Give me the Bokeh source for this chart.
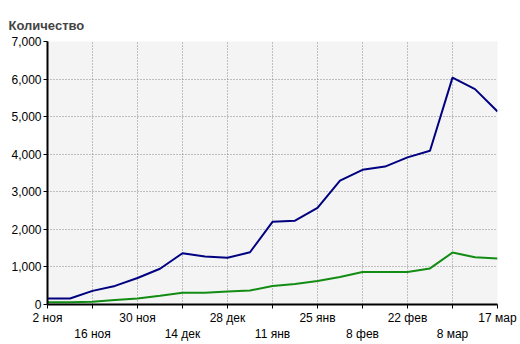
from bokeh.plotting import figure
from bokeh.models import Range1d, FixedTicker, NumeralTickFormatter
from bokeh.embed import file_html
from bokeh.resources import INLINE

# week index 0..20 (2 ноя .. 17 мар)
weeks = list(range(21))
total = [160, 160, 363, 495, 705, 952, 1363, 1276, 1242, 1390, 2200,
         2232, 2574, 3295, 3584, 3671, 3916, 4092, 6039, 5732, 5137]
second = [60, 60, 75, 118, 162, 232, 311, 311, 346, 373, 490,
          548, 627, 732, 864, 864, 864, 960, 1382, 1258, 1224]

tick_pos = [0, 2, 4, 6, 8, 10, 12, 14, 16, 18, 20]
tick_labels = ["2 ноя", "16 ноя", "30 ноя", "14 дек", "28 дек", "11 янв",
               "25 янв", "8 фев", "22 фев", "8 мар", "17 мар"]
y_ticks = [0, 1000, 2000, 3000, 4000, 5000, 6000, 7000]

FONT = "Liberation Sans"

p = figure(width=520, height=344, output_backend="svg", toolbar_location=None,
           x_range=Range1d(0, 20), y_range=Range1d(0, 7000),
           min_border_left=47, min_border_right=23, min_border_top=41,
           min_border_bottom=39)
p.outline_line_color = None
p.background_fill_color = "#f4f4f4"
p.border_fill_color = "white"

p.title.text = "Количество"
p.title.text_font = FONT
p.title.text_font_size = "13px"
p.title.text_font_style = "bold"
p.title.align = "left"
p.title.offset = -39
p.title.standoff = 18

p.line(weeks, total, line_color="#000080", line_width=2)
p.line(weeks, second, line_color="#128c12", line_width=2)

xa = p.xaxis[0]
xa.ticker = FixedTicker(ticks=tick_pos)
xa.major_label_overrides = {t: (lab if i % 2 == 0 else "\n" + lab)
                            for i, (t, lab) in enumerate(zip(tick_pos, tick_labels))}
ya = p.yaxis[0]
ya.ticker = FixedTicker(ticks=y_ticks)
ya.formatter = NumeralTickFormatter(format="0,0")

for ax in (xa, ya):
    ax.axis_line_width = 2
    ax.axis_line_color = "black"
    ax.major_tick_line_color = "black"
    ax.major_tick_in = 0
    ax.major_tick_out = 4
    ax.minor_tick_line_color = None
    ax.major_label_text_font = FONT
    ax.major_label_text_font_size = "12px"
    ax.major_label_text_color = "black"
    ax.major_label_standoff = 2
ya.major_label_orientation = "horizontal"

for g in (p.xgrid[0], p.ygrid[0]):
    g.grid_line_color = "#8a8a8a"
    g.grid_line_dash = "1 2"
    g.grid_line_width = 1
p.xgrid[0].ticker = FixedTicker(ticks=tick_pos)
p.ygrid[0].ticker = FixedTicker(ticks=y_ticks)

open("out.html", "w").write(file_html(p, INLINE))
